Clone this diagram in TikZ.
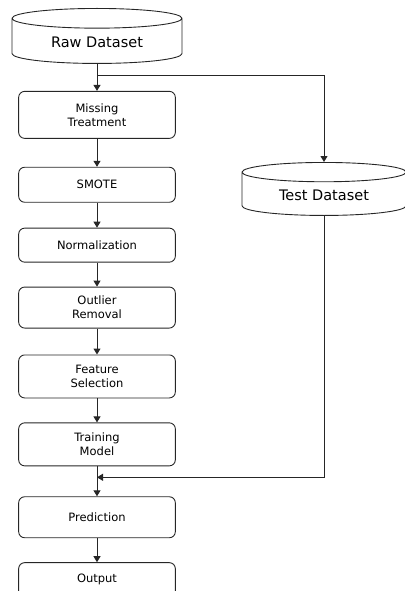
\documentclass[tikz,border=0pt]{standalone}
\usepackage{fontspec}
\setmainfont{DejaVu Sans}
\usetikzlibrary{arrows.meta}
\usetikzlibrary{positioning}
\usetikzlibrary{shapes.geometric}
\newcommand{\flowlinecolor}[0]{black!85}
\tikzset{
    stepbox/.style={rectangle, rounded corners=6pt, draw=\flowlinecolor, line width=0.9pt,
        minimum width=156pt, text width=150pt, align=center, font=\fontsize{11.5}{14}\selectfont},
    datastore/.style={cylinder, shape border rotate=90, shape aspect=0.2, draw=\flowlinecolor,
        line width=0.9pt, font=\fontsize{14.5}{16}\selectfont},
    flow/.style={draw=\flowlinecolor, line width=1pt, -{Triangle[length=6pt, width=7pt]}}
}

\begin{document}
\begin{tikzpicture}[x=1pt, y=1pt]
    \useasboundingbox (0,0) rectangle (404,-591);
    \node[datastore, minimum width=170pt, minimum height=55pt, anchor=north] at (97,-8)
        (raw_data) {Raw Dataset};
    \node[stepbox, minimum height=47pt, below=27pt of raw_data]
        (missing) {Missing\\Treatment};
    \node[stepbox, minimum height=35pt, below=28pt of missing]
        (smote) {SMOTE};
    \node[stepbox, minimum height=34pt, below=25pt of smote]
        (normalize) {Normalization};
    \node[stepbox, minimum height=41pt, below=24pt of normalize]
        (outlier) {Outlier\\Removal};
    \node[stepbox, minimum height=43pt, below=26pt of outlier]
        (feature) {Feature\\Selection};
    \node[stepbox, minimum height=43pt, below=24pt of feature]
        (training) {Training\\Model};
    \node[stepbox, minimum height=41pt, below=30pt of training]
        (prediction) {Prediction};
    \node[stepbox, minimum height=34pt, below=24pt of prediction]
        (output) {Output};
    \node[datastore, minimum width=164pt, minimum height=53pt, anchor=north] at (324,-162)
        (test_data) {Test Dataset};
    \coordinate[below=12pt of raw_data.south] (split);
    \coordinate[below=11pt of training.south] (join);
    \draw[flow] (raw_data) -- (missing);
    \draw[flow] (split) -| (test_data.north);
    \draw[flow] (test_data.south) |- (join);
    \draw[flow] (missing) -- (smote);
    \draw[flow] (smote) -- (normalize);
    \draw[flow] (normalize) -- (outlier);
    \draw[flow] (outlier) -- (feature);
    \draw[flow] (feature) -- (training);
    \draw[flow] (training) -- (prediction);
    \draw[flow] (prediction) -- (output);
\end{tikzpicture}
\end{document}
